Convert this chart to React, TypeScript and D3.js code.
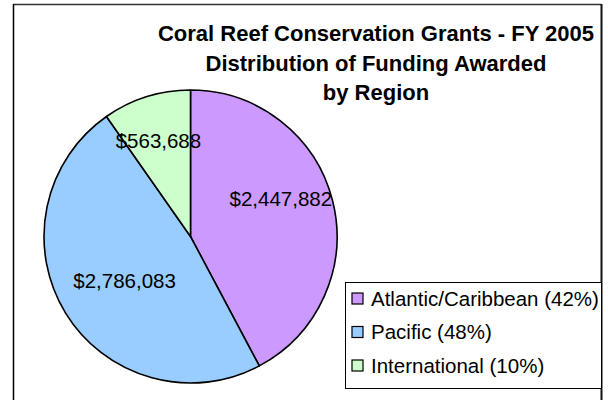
import React from "react";
import * as d3 from "d3";

const categories = ["Atlantic/Caribbean", "Pacific", "International"];
const amounts = [2447882, 2786083, 563688];
const percents = [42, 48, 10];
const colors = ["#CC99FF", "#99CCFF", "#CCFFCC"];
const titleLines = [
  "Coral Reef Conservation Grants - FY 2005",
  "Distribution of Funding Awarded",
  "by Region",
];

// label placement tweaks (radius fraction, angle nudge in degrees)
const labelTweaks = [
  { rf: 0.67, da: -9 },
  { rf: 0.54, da: -2 },
  { rf: 0.69, da: -1 },
];

const W = 608;
const H = 400;
const cx = 190.5;
const cy = 236.5;
const R = 146.5;
const FONT = "Arial, 'Liberation Sans', sans-serif";

export default function App() {
  const pie = d3
    .pie<number>()
    .sort(null)
    .value((d) => d)
    .startAngle(0)
    .endAngle(2 * Math.PI);
  const arcs = pie(amounts);
  const arcGen = d3.arc<d3.PieArcDatum<number>>().innerRadius(0).outerRadius(R);
  const fmt = d3.format("$,.0f");

  const legendY = d3
    .scalePoint<string>()
    .domain(categories)
    .range([298.5, 365.5]);

  return (
    <svg
      width={W}
      height={H}
      style={{ position: "absolute", left: 0, top: 0, background: "#fff" }}
      fontFamily={FONT}
    >
      {/* chart frame */}
      <line x1={13.5} y1={4.5} x2={601.5} y2={4.5} stroke="#333" strokeWidth={1.5} />
      <line x1={13.5} y1={4} x2={13.5} y2={H} stroke="#000" strokeWidth={1.5} />
      <line x1={601.5} y1={4} x2={601.5} y2={H} stroke="#111" strokeWidth={2} />

      {/* title */}
      {titleLines.map((t, i) => (
        <text
          key={t}
          x={376}
          y={41 + i * 29.5}
          textAnchor="middle"
          fontSize={22}
          fontWeight="bold"
          fill="#000"
        >
          {t}
        </text>
      ))}

      {/* pie */}
      <g transform={`translate(${cx},${cy})`}>
        {arcs.map((a, i) => (
          <path
            key={categories[i]}
            d={arcGen(a) || ""}
            fill={colors[i]}
            stroke="#000"
            strokeWidth={1.6}
            strokeLinejoin="round"
          />
        ))}
        {arcs.map((a, i) => {
          const mid = (a.startAngle + a.endAngle) / 2 + (labelTweaks[i].da * Math.PI) / 180;
          const rr = R * labelTweaks[i].rf;
          const x = Math.sin(mid) * rr;
          const y = -Math.cos(mid) * rr;
          return (
            <text
              key={"l" + i}
              x={x}
              y={y}
              dy="0.36em"
              textAnchor="middle"
              fontSize={20.5}
              fill="#000"
            >
              {fmt(amounts[i])}
            </text>
          );
        })}
      </g>

      {/* legend */}
      <rect x={345.5} y={282.5} width={256} height={106} fill="#fff" stroke="#000" strokeWidth={1} />
      {categories.map((c, i) => {
        const y = legendY(c) as number;
        return (
          <g key={c}>
            <rect
              x={352}
              y={y - 5.5}
              width={11}
              height={11}
              fill={colors[i]}
              stroke="#000"
              strokeWidth={1.2}
            />
            <text x={371} y={y} dy="0.36em" fontSize={20.5} fill="#000">
              {`${c} (${percents[i]}%)`}
            </text>
          </g>
        );
      })}
    </svg>
  );
}
